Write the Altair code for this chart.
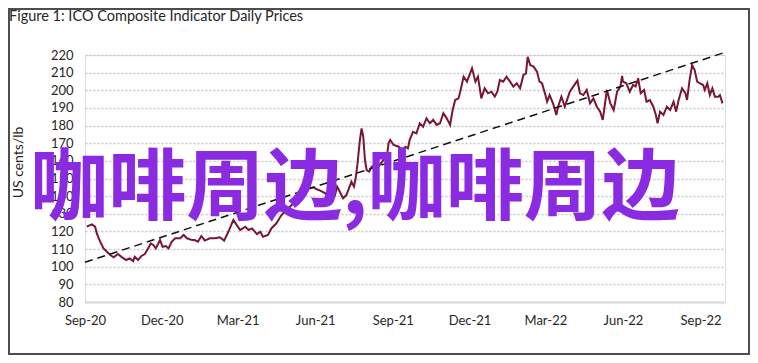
import altair as alt
import pandas as pd

# ---------------- text ----------------
title_text = "Figure 1: ICO Composite Indicator Daily Prices"
y_title = "US cents/lb"
watermark = "咖啡周边,咖啡周边"

# ---------------- data ----------------
start_date = "2020-09-01"
day_offsets = [
    2, 8, 12, 14, 18, 22, 26, 30, 34, 39, 44, 49, 53, 57, 59, 63, 67, 71, 75, 78,
    81, 84, 89, 92, 96, 99, 103, 107, 113, 117, 121, 127, 130, 134, 138, 142, 148,
    154, 160, 165, 170, 176, 180, 184, 190, 194, 198, 204, 208, 211, 217, 221, 227,
    233, 237, 243, 251, 259, 265, 271, 275, 279, 285, 291, 296, 299, 302, 306, 310,
    313, 316, 319, 321, 323, 326, 328, 330, 332, 334, 337, 340, 344, 348, 354, 358,
    360, 362, 366, 372, 376, 380, 383, 385, 389, 393, 397, 401, 405, 409, 413, 417,
    421, 425, 429, 433, 436, 439, 443, 445, 449, 453, 456, 459, 463, 466, 470, 474,
    478, 482, 486, 489, 492, 496, 500, 504, 508, 512, 516, 520, 523, 525, 528, 532,
    536, 539, 542, 546, 548, 551, 555, 559, 561, 565, 569, 573, 575, 579, 584, 587,
    591, 595, 599, 603, 607, 611, 614, 617, 619, 623, 627, 631, 635, 637, 638, 642,
    646, 650, 653, 656, 659, 663, 666, 670, 674, 677, 679, 682, 686, 690, 694, 698,
    701, 704, 708, 712, 714, 717, 720, 723, 726, 729, 733, 735, 738, 741, 744, 747,
    751, 753, 756,
]
prices = [
    122.7, 124.0, 122.7, 118.9, 114.2, 110.4, 108.5, 106.6, 105.3, 107.2, 105.3,
    103.8, 104.7, 103.2, 105.6, 103.8, 106.1, 107.2, 110.4, 113.2, 112.3, 110.4,
    115.1, 111.3, 111.7, 110.4, 114.2, 116.1, 116.1, 118.0, 116.1, 115.1, 115.1,
    114.2, 117.4, 114.8, 116.1, 116.1, 116.7, 114.8, 119.8, 126.5, 123.6, 120.8,
    122.7, 120.8, 121.7, 118.5, 119.8, 117.0, 118.0, 121.7, 124.6, 129.3, 131.2,
    134.0, 137.8, 139.7, 144.4, 145.0, 143.9, 143.1, 141.6, 137.8, 139.7, 145.4,
    142.6, 138.8, 140.6, 144.4, 148.2, 145.4, 150.1, 157.7, 171.8, 178.4, 173.7,
    160.5, 154.8, 153.9, 156.7, 157.7, 156.7, 160.5, 162.4, 169.9, 171.8, 169.0,
    168.0, 166.1, 168.0, 167.1, 171.8, 176.5, 175.6, 181.3, 179.4, 184.1, 181.3,
    183.2, 180.4, 181.3, 187.0, 184.1, 180.4, 188.8, 194.5, 195.4, 199.2, 207.7,
    204.9, 208.7, 212.5, 204.9, 207.7, 195.4, 201.1, 198.3, 199.2, 196.4, 199.2,
    205.8, 204.9, 207.7, 204.9, 202.1, 204.0, 201.1, 208.7, 209.6, 219.0, 214.3,
    213.4, 210.6, 204.9, 204.0, 197.3, 193.5, 197.3, 192.6, 186.0, 190.7, 196.4,
    190.7, 196.4, 199.2, 202.1, 205.5, 198.3, 197.3, 200.2, 192.6, 195.4, 190.7,
    187.9, 183.2, 193.5, 200.2, 192.6, 188.8, 199.2, 202.1, 208.1, 204.9, 204.0,
    199.2, 203.0, 202.1, 206.8, 198.3, 200.2, 193.5, 194.5, 190.7, 186.0, 181.3,
    187.9, 186.0, 190.7, 188.8, 193.5, 187.9, 194.5, 201.1, 198.3, 194.5, 205.8,
    214.3, 211.5, 204.9, 204.0, 203.0, 200.2, 204.0, 197.3, 201.1, 196.4, 196.4,
    197.3, 192.6,
]

trend_dates = ["2020-09-01", "2022-09-30"]
trend_values = [102.5, 221.5]

x_domain = ["2020-09-01", "2022-09-30"]
x_tick_dates = [
    "2020-09-01", "2020-12-01", "2021-03-01", "2021-06-01", "2021-09-01",
    "2021-12-01", "2022-03-01", "2022-06-01", "2022-09-01",
]
y_ticks = [80, 90, 100, 110, 120, 130, 140, 150, 160, 170, 180, 190, 200, 210, 220]

# ---------------- build tables ----------------
price_df = pd.DataFrame({
    "date": pd.Timestamp(start_date) + pd.to_timedelta(day_offsets, unit="D"),
    "price": prices,
})
trend_df = pd.DataFrame({"date": pd.to_datetime(trend_dates), "price": trend_values})


def dt(s):
    t = pd.Timestamp(s)
    return alt.DateTime(year=t.year, month=t.month, date=t.day)


FONT = "Lato"
W, H = 640, 247

x_enc = alt.X(
    "date:T",
    scale=alt.Scale(domain=[dt(d) for d in x_domain], nice=False),
    axis=alt.Axis(
        values=[dt(d) for d in x_tick_dates],
        format="%b-%y",
        title=None,
        grid=False,
        ticks=False,
        tickSize=0,
        labelPadding=12,
        labelFont=FONT,
        labelFontSize=13,
        labelColor="#262626",
        domainColor="#d9d9d9",
        domainWidth=2,
        labelFlush=False,
        labelOverlap=False,
    ),
)
y_enc = alt.Y(
    "price:Q",
    scale=alt.Scale(domain=[80, 220], nice=False, zero=False),
    axis=alt.Axis(
        values=y_ticks,
        title=y_title,
        titleFont=FONT,
        titleFontSize=14,
        titleFontWeight="normal",
        titleColor="#262626",
        titleAngle=270,
        titleX=-67,
        titleY=107,
        titleAlign="center",
        titleBaseline="middle",
        domain=False,
        ticks=False,
        tickSize=0,
        labelPadding=12,
        labelFont=FONT,
        labelFontSize=13,
        labelColor="#262626",
        labelOverlap=False,
        grid=True,
        gridColor="#c8c8c8",
        gridDash=[2, 2],
        gridWidth=1.5,
    ),
)

line = alt.Chart(price_df).mark_line(color="#7a1632", strokeWidth=2).encode(x=x_enc, y=y_enc)

trend = alt.Chart(trend_df).mark_line(
    color="#111111", strokeWidth=1.5, strokeDash=[8, 5]
).encode(x=x_enc, y=y_enc)

title = alt.Chart(pd.DataFrame({"t": [title_text]})).mark_text(
    align="left", baseline="middle", font=FONT, fontSize=14.5, color="#262626"
).encode(text="t:N", x=alt.value(-76), y=alt.value(-38))

mark_wm = alt.Chart(pd.DataFrame({"t": [watermark]})).mark_text(
    align="center", baseline="middle", font="Noto Sans CJK SC", fontSize=78,
    fontWeight="bold", color="#8a2be2"
).encode(text="t:N", x=alt.value(270), y=alt.value(136))

border = alt.Chart(pd.DataFrame({"b": [0]})).mark_rect(
    filled=False, stroke="#4d4d4d", strokeWidth=2
).encode(x=alt.value(-76), x2=alt.value(664), y=alt.value(-46), y2=alt.value(299))

chart = alt.layer(line, trend, mark_wm, title, border).properties(
    width=W,
    height=H,
    autosize=alt.AutoSizeParams(type="none"),
    padding={"left": 77, "top": 47, "right": 25, "bottom": 53},
).configure_view(stroke=None).configure(background="white")

chart.save("out.html", embed_options={"renderer": "svg", "actions": False})
